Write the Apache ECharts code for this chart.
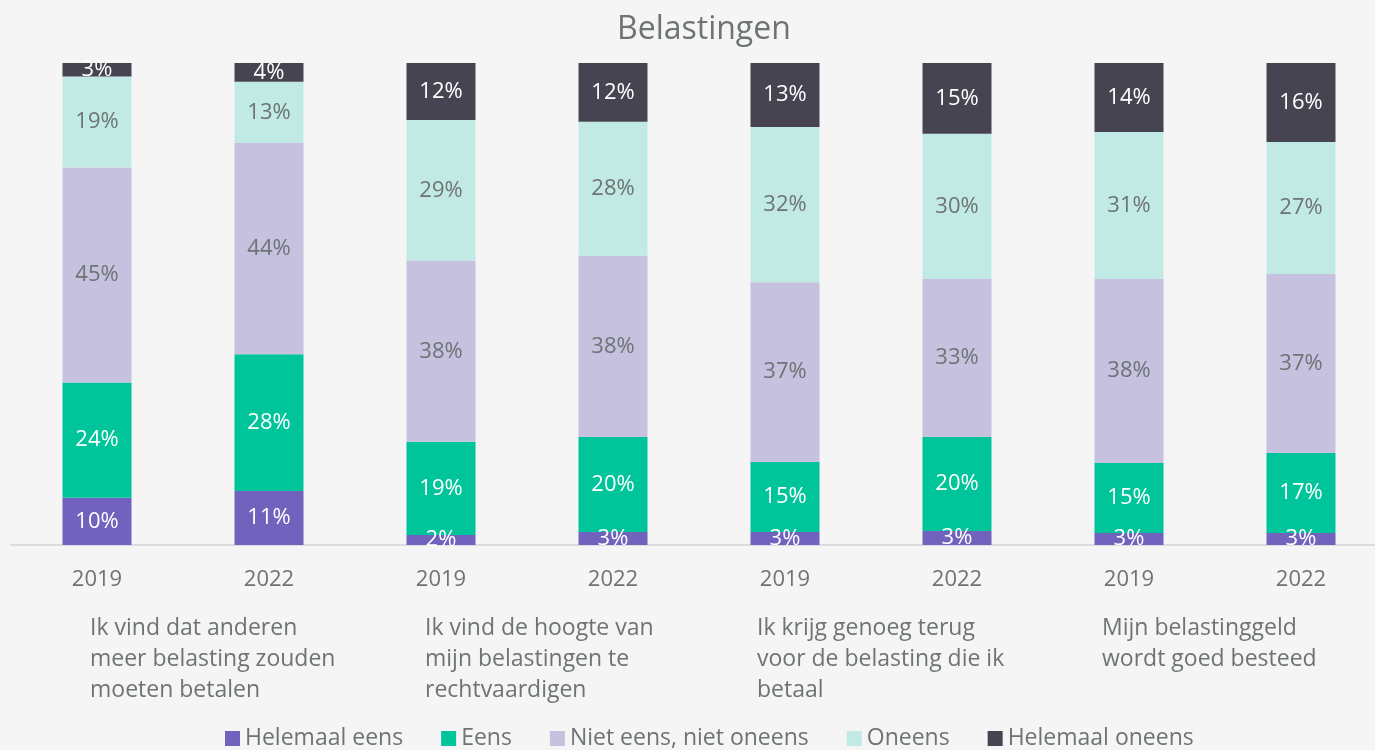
<!DOCTYPE html>
<html>
<head>
<meta charset="utf-8">
<style>
html,body{margin:0;padding:0;background:#f5f5f5;}
#chart{width:1375px;height:750px;}
</style>
<script src="https://cdn.jsdelivr.net/npm/echarts@6/dist/echarts.min.js"></script>
</head>
<body>
<div id="chart"></div>
<script>
// jaartallen per staaf
var years = ['2019','2022','2019','2022','2019','2022','2019','2022'];
// stellingen (een per twee staven)
var groups = [
	'Ik vind dat anderen\nmeer belasting zouden\nmoeten betalen',
	'Ik vind de hoogte van\nmijn belastingen te\nrechtvaardigen',
	'Ik krijg genoeg terug\nvoor de belasting die ik\nbetaal',
	'Mijn belastinggeld\nwordt goed besteed'
];
var names = ['Helemaal eens','Eens','Niet eens, niet oneens','Oneens','Helemaal oneens'];
var helemaalEens   = [9.8, 11.2, 2.1, 2.7, 2.7, 2.9, 2.5, 2.5];
var eens           = [23.9, 28.4, 19.3, 19.7, 14.5, 19.5, 14.5, 16.6];
var nietEens       = [44.6, 43.8, 37.6, 37.6, 37.3, 32.8, 38.2, 37.1];
var oneens         = [18.9, 12.7, 29.2, 27.8, 32.2, 30.1, 30.5, 27.4];
var helemaalOneens = [2.9, 3.9, 11.8, 12.2, 13.3, 14.7, 14.3, 16.4];

var colors = ['#7062bd','#00c49a','#c5c1df','#c0eae3','#474452'];
var labelColors = ['#ffffff','#ffffff','#6e7374','#6e7374','#ffffff'];
var allData = [helemaalEens, eens, nietEens, oneens, helemaalOneens];
var font = '"Open Sans", sans-serif';
var txt = '#6e7374';

var series = [];
for(var i=0;i<allData.length;i++){
	series.push({
		name:names[i],
		type:'bar',
		stack:'totaal',
		barWidth:69,
		data:allData[i],
		itemStyle:{color:colors[i]},
		label:{
			show:true,
			position:'inside',
			color:labelColors[i],
			fontFamily:font,
			fontSize:22,
			formatter:function(p){return Math.round(p.value)+'%';}
		}
	});
}

// tekstblokken van de stellingen, links uitgelijnd
var blockWidths = [186, 204, 228, 226];
var rich = {};
for(var k=0;k<blockWidths.length;k++){
	rich['g'+k] = {width:blockWidths[k],align:'left',color:txt,fontFamily:font,fontSize:23,lineHeight:31};
}

var chart = echarts.init(document.getElementById('chart'));
chart.setOption({
	backgroundColor:'#f5f5f5',
	animation:false,
	color:colors,
	title:{
		text:'Belastingen',
		left:612,
		top:9,
		textStyle:{color:txt,fontFamily:font,fontSize:32,fontWeight:'normal'}
	},
	legend:{
		bottom:-5,
		left:220,
		icon:'rect',
		itemWidth:15,
		itemHeight:15,
		itemGap:38,
		textStyle:{color:txt,fontFamily:font,fontSize:23},
		data:names
	},
	grid:{left:11,top:63,width:1376,height:482,outerBoundsMode:'none'},
	xAxis:[
		{
			type:'category',
			data:years,
			axisLine:{lineStyle:{color:'#dcdcdc',width:2}},
			axisTick:{show:false},
			axisLabel:{color:txt,fontFamily:font,fontSize:22,margin:24}
		},
		{
			type:'category',
			data:groups,
			position:'bottom',
			axisLine:{show:false},
			axisTick:{show:false},
			axisLabel:{
				interval:0,
				margin:68,
				align:'center',
				formatter:function(v,idx){
					return v.split('\n').map(function(s){return '{g'+idx+'|'+s+'}';}).join('\n');
				},
				rich:rich
			}
		}
	],
	yAxis:{type:'value',min:0,max:100,show:false},
	series:series
});
</script>
</body>
</html>
